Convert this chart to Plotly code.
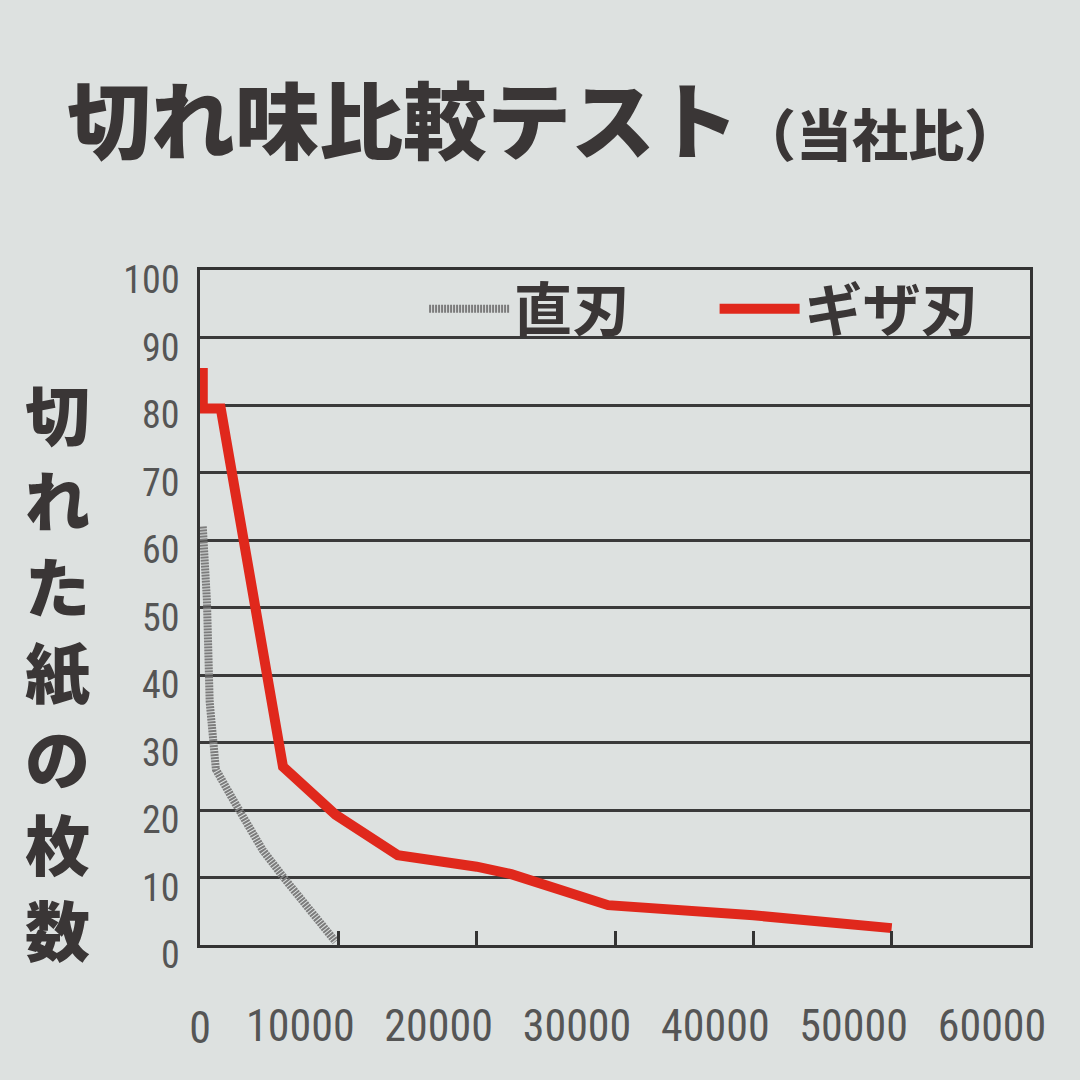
import plotly.graph_objects as go

# ---- data ----
straight_x = [200, 500, 700, 900, 1150, 2400, 4550, 6200, 7900, 9500, 9800]
straight_y = [62, 51, 36, 29.6, 26, 21.5, 14, 9.6, 5.2, 1.0, 0.5]

serrated_x = [200, 200, 1500, 6000, 9800, 14300, 20000, 22500, 29500, 40000, 50000]
serrated_y = [85.5, 79.5, 79.5, 26.4, 19.3, 13.3, 11.6, 10.5, 5.9, 4.4, 2.5]

series_names = ["直刃", "ギザ刃"]
x_ticks = [10000, 20000, 30000, 40000, 50000, 60000]
y_ticks = [0, 10, 20, 30, 40, 50, 60, 70, 80, 90, 100]

title_main = "切れ味比較テスト"
title_sub = "（当社比）"
y_title = "切れた紙の枚数"

BG = "#dde1e0"
INK = "#3a3636"
CJK = "Noto Sans CJK JP"
NUM = "Liberation Sans Narrow, Roboto Condensed, Liberation Sans, sans-serif"

fig = go.Figure()
fig.add_trace(go.Scatter(
    x=straight_x, y=straight_y, mode="lines", name=series_names[0],
    line=dict(color="#7c7c7c", width=8, dash="2px,1px"), legend="legend",
))
fig.add_trace(go.Scatter(
    x=serrated_x, y=serrated_y, mode="lines", name=series_names[1],
    line=dict(color="#e0281c", width=10), legend="legend2",
))
# helper axis only for the "0" label
fig.add_trace(go.Scatter(x=[], y=[], xaxis="x2", showlegend=False, hoverinfo="skip"))

legend_common = dict(
    xanchor="left", yanchor="top", bgcolor="rgba(0,0,0,0)",
    font=dict(family=CJK, size=58, color=INK, weight="bold"), itemwidth=80,
)

# vertical axis title: one character per row
plot_h = 1080 - 270 - 135
row_top_px, row_pitch_px = 412, 86
ytitle_annots = [
    dict(text=ch, xref="paper", yref="paper", x=-0.172,
         y=(945 - (row_top_px + i * row_pitch_px)) / plot_h,
         xanchor="center", yanchor="middle", showarrow=False,
         font=dict(family=CJK, size=65, color=INK, weight=900))
    for i, ch in enumerate(y_title)
]

fig.update_layout(
    width=1080, height=1080,
    paper_bgcolor=BG, plot_bgcolor=BG,
    margin=dict(l=200, r=50, t=270, b=135),
    showlegend=True,
    legend=dict(x=0.27, y=1.008, **legend_common),
    legend2=dict(x=0.62, y=1.008, **legend_common),
    xaxis=dict(
        range=[0, 60000], tickvals=x_ticks, ticktext=[str(v) for v in x_ticks],
        showgrid=False, zeroline=False,
        showline=True, linecolor="#333", linewidth=2.5, mirror=True,
        ticks="inside", ticklen=14, tickwidth=2.5, tickcolor="#333",
        tickfont=dict(family=NUM, size=44, color="#555"),
        ticklabelstandoff=40, ticklabelshift=-38,
    ),
    xaxis2=dict(
        range=[0, 60000], overlaying="x", anchor="y", side="bottom",
        tickvals=[0], ticktext=["0"], showgrid=False, zeroline=False,
        showline=False, ticks="",
        tickfont=dict(family=NUM, size=44, color="#555"),
        ticklabelstandoff=53,
    ),
    yaxis=dict(
        range=[0, 100], tickvals=y_ticks,
        showgrid=True, gridcolor="#3a3a3a", gridwidth=2.5, zeroline=False,
        showline=True, linecolor="#333", linewidth=2.5, mirror=True,
        ticks="", tickfont=dict(family=NUM, size=38, color="#555"),
        ticklabelstandoff=10, ticklabelshift=10,
    ),
    annotations=[
        dict(text=title_main, xref="paper", yref="paper", x=-0.163, y=1.228,
             xanchor="left", yanchor="middle", showarrow=False,
             font=dict(family=CJK, size=84, color=INK, weight=900)),
        dict(text=title_sub, xref="paper", yref="paper", x=0.648, y=1.205,
             xanchor="left", yanchor="middle", showarrow=False,
             font=dict(family=CJK, size=56, color=INK, weight=900)),
    ] + ytitle_annots,
)

fig.write_html("out.html", config={"displayModeBar": False},
               post_script="document.body.style.margin='0';")
